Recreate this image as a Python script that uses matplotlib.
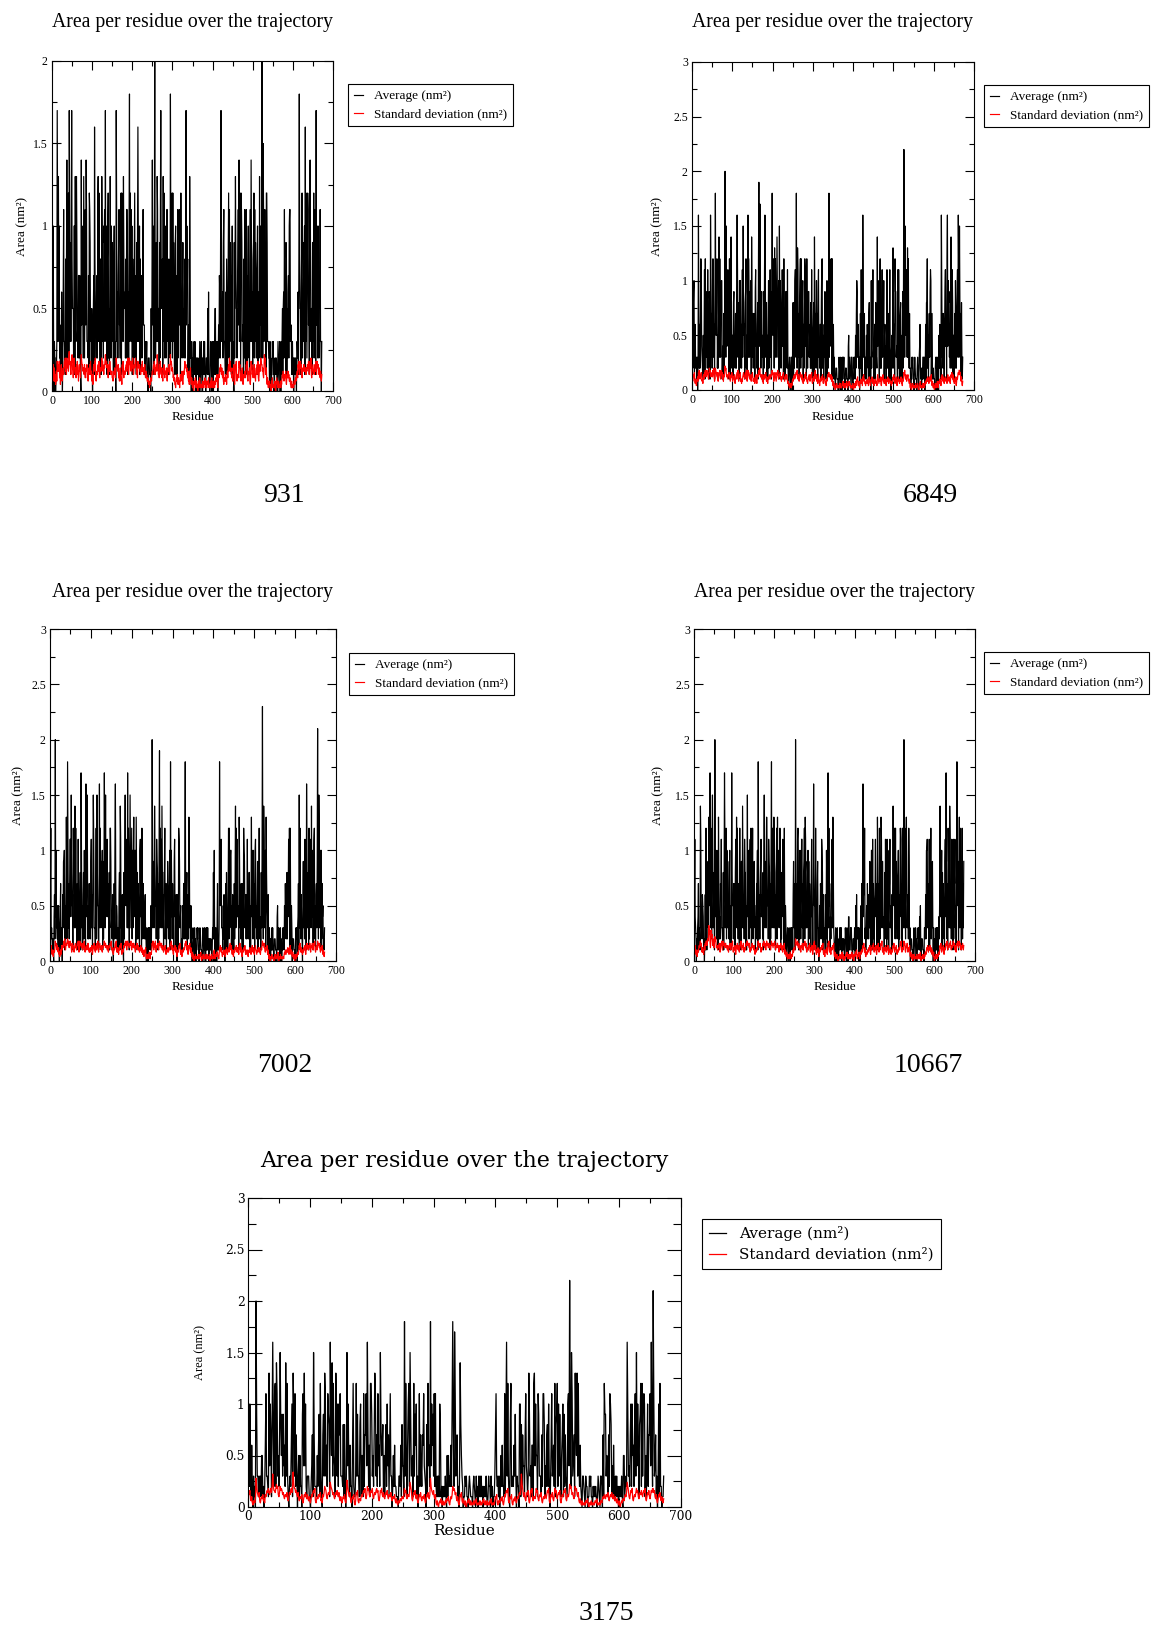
import matplotlib.pyplot as plt
import numpy as np
from matplotlib.ticker import MultipleLocator, FuncFormatter

plt.rcParams['font.family'] = ['Liberation Serif', 'DejaVu Serif']

W, H = 1152, 1629
LEVELS = '0123456789ABCDEFGHIJKLMNOPQRSTUVWXYZ'
TITLE = 'Area per residue over the trajectory'

# one character per residue, starting at residue 1
# average in steps of 0.1 nm^2, standard deviation in steps of 0.02 nm^2
avg_931 = ''.join([
    '92A303220113H93D4A2314162026B3321818E726C2HB3939H85551AA1D3CD93427727310E4A562D726B4EB333271CB93',
    '415203571G8542672BD3C541881D9362A9B3H4A718AC2516D72A394518A1320HB36279B4427C1C793D8556282BB8162A',
    'I3C7B3A185158C2471939G936A18275267B4441313231102221110516E4A81CK72693DB355192BH85681D3C72A427BB3',
    '618462I938C2C395159A1471B276B491C33269352682BH4A681441D72303220113131202121210132103120213131102',
    '22151611013220312031355123130242762AHB34629B33216184158C2B394717A1310927D855268B4E3C61CB9344182B',
    '516B8172A4518B3E936189C2B395278A1462D4A727K72FB36B491CC93332203120113231102121210132103220313515',
    '62B47198152672ABB3441331202121210332618I855169C26398A1G3C727CB461CE93551993C2B681H4A92A4276B3303',
])
sd_931 = ''.join([
    '64853735246397686945268534675897A685A7986BC897589B7648A86574869563786647B98867658546768453675869',
    '56345278697A435657869546768A79675879B98978647869756564435657546A8776845367534286954665778697A658',
    'A8976897A657879A97564978786657869675768546453342231324435657879657786B98564879657453768546657435',
    '768657B89867645342213435324231453546324657978867546342657324213102324213120231342112213121324213',
    '213324121231342213231324435213546768657546324435342564786A89675453768324879435546978453657324546',
    '546879435657324978564768453675869435786A98867546B9A657324213231120324112213102342213121231324546',
    '43554632454645334221311221332443556487965797854676886767576887965797A546786657869758978657546435',
])

avg_6849 = ''.join([
    '5279A1462231302G72627CB4321515B1C69382B571981GB372ACB3618I858C2526E3C639AA1441727K93F4A6B491C416',
    'E7255189342772BGB3681A2A4627B3F856189C2515G3C8396A1E937274719B452681CJ4AH7279354192BGB3881516A2A',
    '7B3918I858C2D3C639E937A1F4A8276B4A1C55179392B31023210332068182ABB3I72DB3718AC2C398A1627CB471C527',
    '99356282B415681E8572A5719B3426618BC25416393137A1927I3C8B4C1C416231102221110132203120313231102221',
    '110451232103320113231527A9356230272B415G93571321526441781310A2A6B3416618332E4A5518C2427B396A1562',
    '415B275716B4303526D7261C993441B2B51678145192AMB3F857B3D3C527220113231102321110232103462120213331',
    '3026188C2515739BA1471221110232303220526441G937275169B461CG4A89362BE72B8155172A4279B3GB3F85718313',
])
sd_6849 = ''.join([
    '546768435324564869657786453675879768978657A8986778697A645A98768546879657978564768B9A867657786546',
    '76854665743567587954676845354678665786954697865756476864545365743576897A867657453675768546435657',
    '657768978645786546879657768564657786546675764342213231324546675768879657546786657453546768564435',
    '657546768435564879657453675324546657435564342546768867657546324213102231121213231112324213231324',
    '213324231121213102231342546324213435342657453324435342564324546435324453342675435546324657453435',
    '324546435453342435657453546324564435546342546879657546675435213102231121213112231102324121213231',
    '324435546453564657324213102231324213435342657546435564453675546435768657453546324657879978546324',
])

avg_7002 = ''.join([
    '7C2321210462K4A3325152034713206399A1526D72IB3727BB4F8561C993E3C44172B313681H9351682A451G4AF72527',
    '4629B3618FB33316C2F85515G3C8396A1927H93F4A7B457181CC9342630272BG72541321681EB341631082AF859B3H3C',
    '818F937C2A39D4A6A1D72827551AB461C427332562203120313231515KB3893E8562B98172AJ3C8B3E936188C2471639',
    '5267A1I4A6274419B451630261CB9345122152772BI72681462DB3515210132203120113231102321110232103120313',
    '13120212121013282A203320471213I856B33315263027184416C2C39AA1516321727E3C6B4451D9352731071CA93462',
    '62B332881515D4A72A471AB35269186C2441839N72EB36A1D85416203120213131102221110451132203120113231527',
    '4628276B4C1C515302221110232303471F3C52632069382B541G93781C2A6B3E4A818BC2516739L72FB36A1A27451213',
])
sd_7002 = ''.join([
    '65743532454697865754634245367576897A657879A89768978645867546786657879546978768657869546675768564',
    '546657435768564675869546786657546768978867657546768879564435657869546453657768435546768879657978',
    '768879657786867546768657564657546435324546213231324213435879657869546768657978768657546657435546',
    '546657879657435657546324546768435324546657879657435768546324213102231121213112324102213121231213',
    '121213102231121435213324342213657546324435342546435564768657435324546657546453768546324546657435',
    '435324546453657546435675435546564435657978768546657435213102213121102231121324102213121112213435',
    '435546453657435324213102231324435768546453546657435786657768546768657879546675978768546657435324',
])

avg_10667 = ''.join([
    '6B4320213471331EB342654120261C416893D85H3C92BF93681K4A82A551D724276B3321818HB36C2A394627A1515H85',
    '6274718B4D3C52671C441993E9362B881516F4A72A9B3C186C28395514277A1I726279B456281CFB3793D8562B98172A',
    'I3C8B3D936189C2D4A739CA18276B491C515310232103220313231693471K7272BC8182A526BB37189C2DB36398A1927',
    '5417B4416G8561C45179330252762BA8146232162A515H3C5714267B3D93210132203120113231302121210132203120',
    '441113231102221310516232303220451718G4A6C2313527462639331AA1B275156B4471D7271C526DB369344182B681',
    'B2A5167B3451618E857C2C395278A1627CB471C993K3C62BD93562C81302221110232103220113231415102221110332',
    '62AAB3571B187C2839303120213131302426E4A6A18275419B4H7271C993EB362B881B2A7B3516I85918D3C5517C2739',
])
sd_10667 = ''.join([
    '657435324546768978546453675879978A9BGCE869EBC97A768B9A867657768546879657978768867657546768657879',
    '546657435768657546879657768546657879978768546657867657435546657978768546657879768657978768867657',
    '978768879657768867546768657546768435324213231324213324546657A98879768657546768657879768546657768',
    '546657435879657435546324546657768435324546435879546435657768324213231102213121324213102213324213',
    '213121324213102324435213324213435546768546324435546657435657768546657435768546657879546435657546',
    '657435546435546768546657435546657879546657978546768546657324213102231121213112231324102213121324',
    '435657546657546435324102213121324435768546657435657879657768879657768978657546879768978657768657',
])

avg_3175 = ''.join([
    '92A416203120K933131315512026B3321D4A718G72BC2EB3527F85939462E3C3102326A1D93B273035152209B4D4A213',
    '331102471F7222152691C310793DB362B981G85E3C541D93A2A7B3332818203F4A4162206C2113C393318A1551B277B4',
    'G7261CC93527DB372B462F8568151582A4716B3302526221110332618441I3C516AC2F93451C396A1303B274276B4320',
    '81C462I4A693B2B213131A8120212131051523262AI72HB3471203E85320113231102321110232103120313131202121',
    '3101322031201137B3231302526221B18G3C3108C2232639303220AA18274417B4313D9341661CD4A551B9333172BB81',
    '42782A3026B3462C189C2A394157A1927321AB4M72FB3571D85D3C42621033210322011323110212121013210332071C',
    '99354172BA81416213131202121310551232G93427A2A5628B3F4A6189C2C39BA1515A277B4G72LB3471303A1C220113',
])
sd_3175 = ''.join([
    '768435213324EA765732454634265787976897AGA8879B9A657A8986754665743576897AHB9978657435546324657546',
    '435324657879324546657342657A98546768CA9867546768657435324546324DA8657324546213768324435657879546',
    'A89657879546768978435879657546768546657435546324213324435546978546657CA8435768546324657435546324',
    '657546EA8768546213102324213121324435213546A89867435213657324213102324213121231324112213121324213',
    '213121324112213546213324435213657879324546213435324546768GB9657435768324879435546978435657324546',
    '546879324657435978546768324657879435657B9A867546A89657324213121213324102213121213324112213324546',
    '546657435657546435324213102324435657CA8546879435657978546768657879435768546879978546324657435324',
])


def decode(code, step):
    return np.array([LEVELS.index(c) for c in code]) * step


SMALL = dict(family='Liberation Serif', title=14.2, tick=8.5, label=9.5,
             legend=9.5, ylabel_family='Liberation Serif', ylabel=9.5,
             xmaj=6.5, xmin=3.6, ymaj=6.5, ymin=3.6, lw=0.85, pad=3,
             handlelength=0.7, handletextpad=0.8, borderpad=0.45)
WIDE = dict(family='DejaVu Serif', title=16, tick=8.8, label=11,
            legend=11, ylabel_family='Liberation Serif', ylabel=9,
            xmaj=6.5, xmin=3.6, ymaj=10, ymin=5.8, lw=0.9, pad=2.5,
            handlelength=1.1, handletextpad=0.9, borderpad=0.45)

# box = (left, top, right, bottom) in pixels
panels = [
    dict(tag='931', avg=avg_931, sd=sd_931, ymax=2, box=(52, 61, 333, 391),
         tag_xy=(284, 495), legend_at=(348, 84), title_y=23, xlabel_y=417,
         ylabel_x=22, style=SMALL),
    dict(tag='6849', avg=avg_6849, sd=sd_6849, ymax=3, box=(692, 62, 974, 390),
         tag_xy=(930, 495), legend_at=(984, 85), title_y=23, xlabel_y=417,
         ylabel_x=657, style=SMALL),
    dict(tag='7002', avg=avg_7002, sd=sd_7002, ymax=3, box=(50, 629, 336, 961),
         tag_xy=(285, 1065), legend_at=(349, 653), title_y=592, xlabel_y=987,
         ylabel_x=18, style=SMALL),
    dict(tag='10667', avg=avg_10667, sd=sd_10667, ymax=3, box=(694, 629, 975, 961),
         tag_xy=(928, 1065), legend_at=(984, 652), title_y=592, xlabel_y=987,
         ylabel_x=658, style=SMALL),
    dict(tag='3175', avg=avg_3175, sd=sd_3175, ymax=3, box=(248, 1198, 681, 1507),
         tag_xy=(606, 1613), legend_at=(702, 1219), title_y=1161, xlabel_y=1531,
         ylabel_x=200, style=WIDE),
]

fig = plt.figure(figsize=(W / 100, H / 100), dpi=100)


def fx(x):
    return x / W


def fy(y):
    return 1 - y / H


def draw_panel(p):
    st = p['style']
    l, t, r, b = p['box']
    ax = fig.add_axes([fx(l), fy(b), (r - l) / W, (b - t) / H])

    avg = decode(p['avg'], 0.1)
    sd = decode(p['sd'], 0.02)
    ax.plot(np.arange(1, len(avg) + 1), avg, color='black', lw=st['lw'],
            label='Average (nm²)')
    ax.plot(np.arange(1, len(sd) + 1), sd, color='red', lw=st['lw'],
            label='Standard deviation (nm²)')

    ax.set_xlim(0, 700)
    ax.set_ylim(0, p['ymax'])
    ax.xaxis.set_major_locator(MultipleLocator(100))
    ax.xaxis.set_minor_locator(MultipleLocator(50))
    ax.yaxis.set_major_locator(MultipleLocator(0.5))
    ax.yaxis.set_minor_locator(MultipleLocator(0.25))
    ax.yaxis.set_major_formatter(FuncFormatter(lambda v, _: f'{v:g}'))

    ax.tick_params(which='both', direction='in', top=True, right=True,
                   width=0.8, color='black', labelsize=st['tick'],
                   labelfontfamily=st['family'], pad=st['pad'])
    ax.tick_params(axis='x', which='major', length=st['xmaj'])
    ax.tick_params(axis='x', which='minor', length=st['xmin'])
    ax.tick_params(axis='y', which='major', length=st['ymaj'])
    ax.tick_params(axis='y', which='minor', length=st['ymin'])
    for s in ax.spines.values():
        s.set_linewidth(0.8)

    cx = (l + r) / 2
    fig.text(fx(cx), fy(p['title_y']), TITLE, ha='center', va='center',
             family=st['family'], size=st['title'])
    fig.text(fx(cx), fy(p['xlabel_y']), 'Residue', ha='center', va='center',
             family=st['family'], size=st['label'])
    fig.text(fx(p['ylabel_x']), fy((t + b) / 2), 'Area (nm²)', ha='center',
             va='center', rotation=90, family=st['ylabel_family'],
             size=st['ylabel'])

    leg = ax.legend(loc='upper left',
                    bbox_to_anchor=(fx(p['legend_at'][0]), fy(p['legend_at'][1])),
                    bbox_transform=fig.transFigure, borderaxespad=0,
                    prop={'family': st['family'], 'size': st['legend']},
                    handlelength=st['handlelength'],
                    handletextpad=st['handletextpad'],
                    borderpad=st['borderpad'], labelspacing=0.45,
                    fancybox=False, framealpha=1, edgecolor='black')
    leg.get_frame().set_linewidth(0.8)

    fig.text(fx(p['tag_xy'][0]), fy(p['tag_xy'][1]), p['tag'], ha='center',
             va='center', family='Liberation Serif', size=20)


for p in panels:
    draw_panel(p)

fig.savefig('out.png', dpi=100)
